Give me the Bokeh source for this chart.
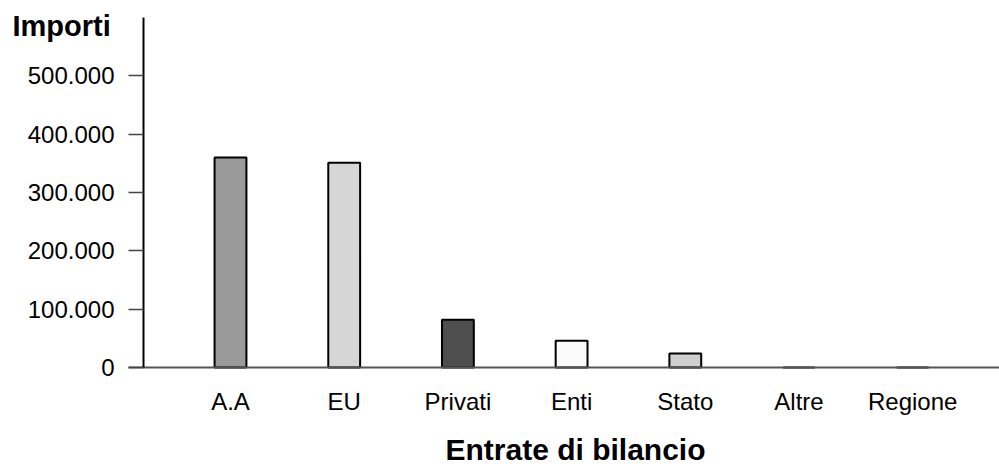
from bokeh.plotting import figure
from bokeh.models import Range1d, FixedTicker, Label, ColumnDataSource
from bokeh.embed import file_html
from bokeh.resources import INLINE

categories = ["A.A", "EU", "Privati", "Enti", "Stato", "Altre", "Regione"]
values = [360000, 351000, 82000, 46000, 24000, 0, 0]
bar_colors = ["#9a9a9a", "#d6d6d6", "#4e4e4e", "#fbfbfb", "#cfcfcf", "#ffffff", "#ffffff"]
y_ticks = [0, 100000, 200000, 300000, 400000, 500000]
y_tick_labels = ["0", "100.000", "200.000", "300.000", "400.000", "500.000"]
y_title = "Importi"
x_title = "Entrate di bilancio"

FONT = "Liberation Sans"
W, H = 999, 470

# layout geometry (pixels)
AXIS_PX = 143          # y axis position from left
BOTTOM_PX = 367        # zero line from top
TOP_PX = 17            # top of y axis line
STEP_PX = 113.7        # spacing of categories
FIRST_PX = 230         # centre of first category
Y_MAX = 600000

ppu = (BOTTOM_PX - TOP_PX) / Y_MAX
x_start = -FIRST_PX / STEP_PX
x_end = (W - FIRST_PX) / STEP_PX
x_axis_pos = (AXIS_PX - FIRST_PX) / STEP_PX
y_start = -(H - BOTTOM_PX) / ppu
y_end = Y_MAX + TOP_PX / ppu

xs = list(range(len(categories)))
src = ColumnDataSource(dict(x=xs, top=values, color=bar_colors))

p = figure(width=W, height=H, output_backend="svg", toolbar_location=None,
           x_range=Range1d(x_start, x_end), y_range=Range1d(y_start, y_end),
           min_border_left=0, min_border_right=0, min_border_top=0, min_border_bottom=0)
p.outline_line_color = None
p.xgrid.visible = False
p.ygrid.visible = False
p.background_fill_color = "white"
p.border_fill_color = "white"

p.vbar(x="x", top="top", bottom=0, width=0.28, source=src,
       fill_color="color", line_color="black", line_width=2)

# y axis (drawn inside the frame at the axis position)
ya = p.yaxis[0]
ya.fixed_location = x_axis_pos
ya.bounds = (0, Y_MAX)
ya.ticker = FixedTicker(ticks=y_ticks)
ya.major_label_overrides = {t: l for t, l in zip(y_ticks, y_tick_labels)}
ya.major_tick_out = 15
ya.major_tick_in = 0
ya.minor_tick_out = 0
ya.minor_tick_in = 0
ya.major_tick_line_color = "#444444"
ya.major_tick_line_width = 1.5
ya.axis_line_color = "black"
ya.axis_line_width = 2
ya.major_label_text_font = FONT
ya.major_label_text_font_size = "24px"
ya.major_label_text_color = "black"
ya.major_label_standoff = 14

# x axis (drawn at zero)
xa = p.xaxis[0]
xa.fixed_location = 0
xa.bounds = (x_axis_pos - 15 / STEP_PX, x_end)
xa.ticker = FixedTicker(ticks=xs)
xa.major_label_overrides = {i: c for i, c in zip(xs, categories)}
xa.major_tick_out = 0
xa.major_tick_in = 0
xa.minor_tick_out = 0
xa.minor_tick_in = 0
xa.axis_line_color = "#555555"
xa.axis_line_width = 2
xa.major_label_text_font = FONT
xa.major_label_text_font_size = "24px"
xa.major_label_text_color = "black"
xa.major_label_standoff = 20

ylbl = Label(x=12, y=H - 25, x_units="screen", y_units="screen", text=y_title,
             text_font=FONT, text_font_style="bold", text_font_size="29px",
             text_color="black", text_baseline="alphabetic", text_align="left")
p.add_layout(ylbl)

xlbl = Label(x=575, y=H - 449, x_units="screen", y_units="screen", text=x_title,
             text_font=FONT, text_font_style="bold", text_font_size="30px",
             text_color="black", text_baseline="alphabetic", text_align="center")
p.add_layout(xlbl)

open("out.html", "w").write(file_html(p, INLINE))
